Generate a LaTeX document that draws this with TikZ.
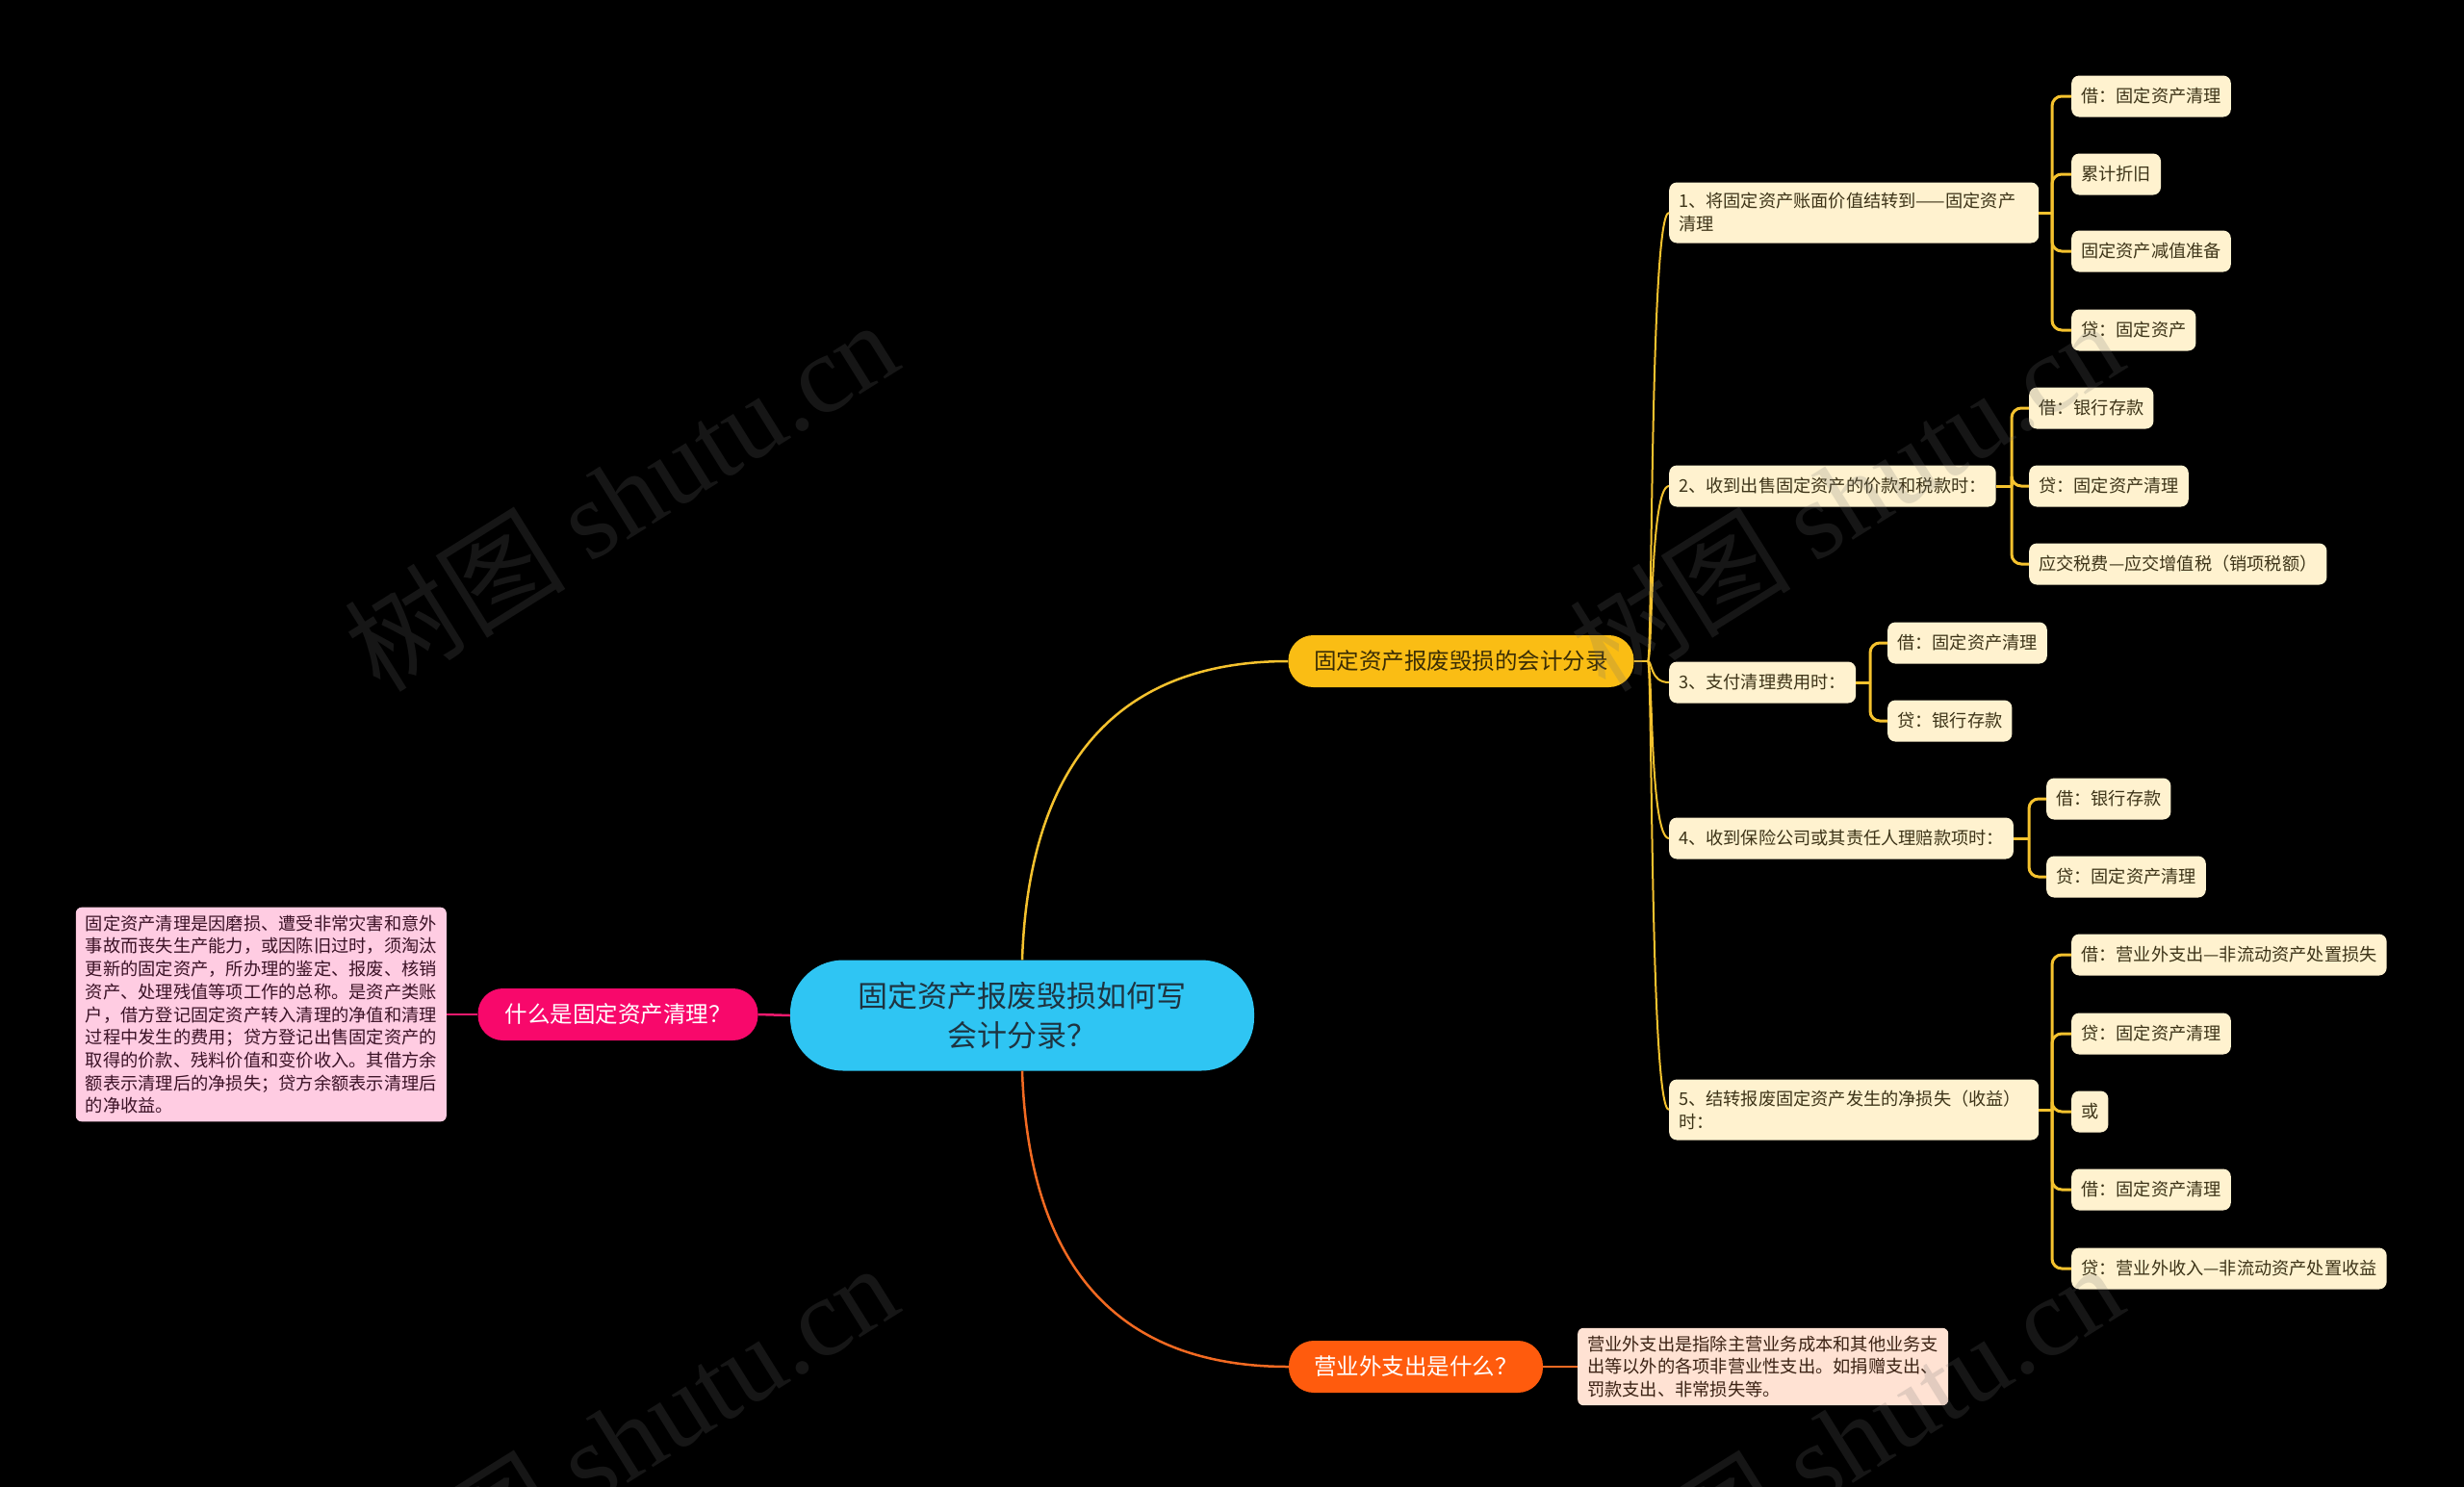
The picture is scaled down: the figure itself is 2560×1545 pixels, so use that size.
\documentclass[tikz,border=0pt]{standalone}
\usepackage{fontspec}
\setmainfont{Noto Sans CJK SC}
\newfontfamily\wmlatin{Liberation Serif}
\newfontfamily\wmcjk{Noto Sans CJK SC}
\definecolor{rootbg}{HTML}{2FC5F3}
\definecolor{roottx}{HTML}{1E3340}
\definecolor{ylwbg}{HTML}{FABD14}
\definecolor{ylwtx}{HTML}{3A2D05}
\definecolor{pinkbg}{HTML}{F8086B}
\definecolor{orgbg}{HTML}{FF5B0D}
\definecolor{pinkdesc}{HTML}{FFCCE2}
\definecolor{pinkdesctx}{HTML}{3B1226}
\definecolor{orgdesc}{HTML}{FFE2D3}
\definecolor{orgdesctx}{HTML}{3B2214}
\definecolor{leafbg}{HTML}{FFF2CF}
\definecolor{leaftx}{HTML}{3D3418}
\definecolor{conY}{HTML}{F5C22E}
\definecolor{conP}{HTML}{F01A6E}
\definecolor{conO}{HTML}{F26A22}
\definecolor{wmgray}{HTML}{707070}
\begin{document}
\begin{tikzpicture}[x=1pt,y=-1pt,
  rootn/.style={fill=rootbg, text=roottx, rounded corners=55pt, align=center,
    minimum width=482pt, minimum height=115pt, inner sep=0pt,
    font=\fontsize{31}{41}\selectfont},
  branchn/.style={rounded corners=26pt, minimum height=54pt, inner sep=0pt,
    font=\fontsize{23.5}{28}\selectfont},
  descn/.style={rounded corners=6pt, align=left, inner xsep=10pt, inner ysep=8pt,
    font=\fontsize{18.25}{23.7}\selectfont},
  itemn/.style={fill=leafbg, text=leaftx, rounded corners=8pt, anchor=west,
    inner xsep=10pt, inner ysep=0pt, minimum height=43pt, align=left,
    font=\fontsize{18.2}{24}\selectfont},
  leafn/.style={itemn},
  lineY/.style={draw=conY, line width=2.5pt},
  lineY2/.style={draw=conY, line width=2pt},
  lineL/.style={draw=conY, line width=3pt, rounded corners=10pt},
  lineP/.style={draw=conP, line width=2.5pt},
  lineO/.style={draw=conO, line width=2.5pt},
  wmark/.style={text=wmgray, opacity=0.2, rotate=32, inner sep=0pt}
]
\fill[black] (0,0) rectangle (2560,1545);
\useasboundingbox (0,0) rectangle (2560,1545);

% root and main branches
\node[rootn] (root) at (1062,1055) {固定资产报废毁损如何写\\会计分录？};
\node[branchn, fill=ylwbg, text=ylwtx, minimum width=359pt] (yb) at (1518,687) {固定资产报废毁损的会计分录};
\node[branchn, fill=pinkbg, text=white, minimum width=291pt] (pb) at (642,1054) {什么是固定资产清理？};
\node[branchn, fill=orgbg, text=white, minimum width=264pt] (ob) at (1471,1420) {营业外支出是什么？};

% descriptions
\node[descn, fill=pinkdesc, text=pinkdesctx, anchor=east] (pd) at (464,1054) {固定资产清理是因磨损、遭受非常灾害和意外\\事故而丧失生产能力，或因陈旧过时，须淘汰\\更新的固定资产，所办理的鉴定、报废、核销\\资产、处理残值等项工作的总称。是资产类账\\户，借方登记固定资产转入清理的净值和清理\\过程中发生的费用；贷方登记出售固定资产的\\取得的价款、残料价值和变价收入。其借方余\\额表示清理后的净损失；贷方余额表示清理后\\的净收益。};
\node[descn, fill=orgdesc, text=orgdesctx, anchor=west] (od) at (1639,1420) {营业外支出是指除主营业务成本和其他业务支\\出等以外的各项非营业性支出。如捐赠支出、\\罚款支出、非常损失等。};

% level 2 items
\node[itemn, text width=364pt, minimum height=63pt] (i1) at (1734,221) {1、将固定资产账面价值结转到——固定资产\\清理};
\node[itemn] (i2) at (1734,505) {2、收到出售固定资产的价款和税款时：};
\node[itemn] (i3) at (1734,709) {3、支付清理费用时：};
\node[itemn] (i4) at (1734,871) {4、收到保险公司或其责任人理赔款项时：};
\node[itemn, text width=364pt, minimum height=63pt] (i5) at (1734,1153) {5、结转报废固定资产发生的净损失（收益）\\时：};

% leaves of item 1
\node[leafn] (l11) at (2152,100) {借：固定资产清理};
\node[leafn] (l12) at (2152,181) {累计折旧};
\node[leafn] (l13) at (2152,261) {固定资产减值准备};
\node[leafn] (l14) at (2152,343) {贷：固定资产};
% leaves of item 2
\node[leafn] (l21) at (2108,424) {借：银行存款};
\node[leafn] (l22) at (2108,505) {贷：固定资产清理};
\node[leafn] (l23) at (2108,586) {应交税费—应交增值税（销项税额）};
% leaves of item 3
\node[leafn] (l31) at (1961,668) {借：固定资产清理};
\node[leafn] (l32) at (1961,749) {贷：银行存款};
% leaves of item 4
\node[leafn] (l41) at (2126,830) {借：银行存款};
\node[leafn] (l42) at (2126,911) {贷：固定资产清理};
% leaves of item 5
\node[leafn] (l51) at (2152,992) {借：营业外支出—非流动资产处置损失};
\node[leafn] (l52) at (2152,1074) {贷：固定资产清理};
\node[leafn] (l53) at (2152,1155) {或};
\node[leafn] (l54) at (2152,1236) {借：固定资产清理};
\node[leafn] (l55) at (2152,1318) {贷：营业外收入—非流动资产处置收益};

% main connectors
\draw[lineY] (root.north) .. controls (1068,820) and (1140,687) .. (yb.west);
\draw[lineO] (root.south) .. controls (1068,1290) and (1140,1420) .. (ob.west);
\draw[lineP] (root.west) -- (pb.east);
\draw[lineP] (pb.west) -- (pd.east);
\draw[lineO] (ob.east) -- (od.west);

% level 2 connectors
\coordinate (yj) at (1712,687);
\coordinate (yv) at (1714,0);
\draw[lineY2] (yb.east) -- (yj);
\draw[lineY2] (yj) .. controls (1717,687) and (yv |- i1.west) .. (i1.west);
\draw[lineY2] (yj) .. controls (1717,687) and (yv |- i2.west) .. (i2.west);
\draw[lineY2] (yj) .. controls (1717,687) and (yv |- i3.west) .. (i3.west);
\draw[lineY2] (yj) .. controls (1717,687) and (yv |- i4.west) .. (i4.west);
\draw[lineY2] (yj) .. controls (1717,687) and (yv |- i5.west) .. (i5.west);

% level 3 connectors
\coordinate (bx1) at (2132,0);
\coordinate (bx2) at (2090,0);
\coordinate (bx3) at (1943,0);
\coordinate (bx4) at (2108,0);
\coordinate (bx5) at (2132,0);
\draw[lineL] (i1.east) -- (bx1 |- i1.east);
\foreach \l in {l11,l12,l13,l14} \draw[lineL] (bx1 |- i1.east) |- (\l.west);
\draw[lineL] (i2.east) -- (bx2 |- i2.east);
\foreach \l in {l21,l22,l23} \draw[lineL] (bx2 |- i2.east) |- (\l.west);
\draw[lineL] (i3.east) -- (bx3 |- i3.east);
\foreach \l in {l31,l32} \draw[lineL] (bx3 |- i3.east) |- (\l.west);
\draw[lineL] (i4.east) -- (bx4 |- i4.east);
\foreach \l in {l41,l42} \draw[lineL] (bx4 |- i4.east) |- (\l.west);
\draw[lineL] (i5.east) -- (bx5 |- i5.east);
\foreach \l in {l51,l52,l53,l54,l55} \draw[lineL] (bx5 |- i5.east) |- (\l.west);

% watermarks
\node[wmark] (w1) at (645,514) {\fontsize{115}{115}\selectfont\wmcjk 树图 \wmlatin shutu.cn};
\node[wmark] (w2) at (1918,514) {\fontsize{115}{115}\selectfont\wmcjk 树图 \wmlatin shutu.cn};
\node[wmark] (w3) at (645,1494) {\fontsize{115}{115}\selectfont\wmcjk 树图 \wmlatin shutu.cn};
\node[wmark] (w4) at (1918,1494) {\fontsize{115}{115}\selectfont\wmcjk 树图 \wmlatin shutu.cn};
\end{tikzpicture}
\end{document}
